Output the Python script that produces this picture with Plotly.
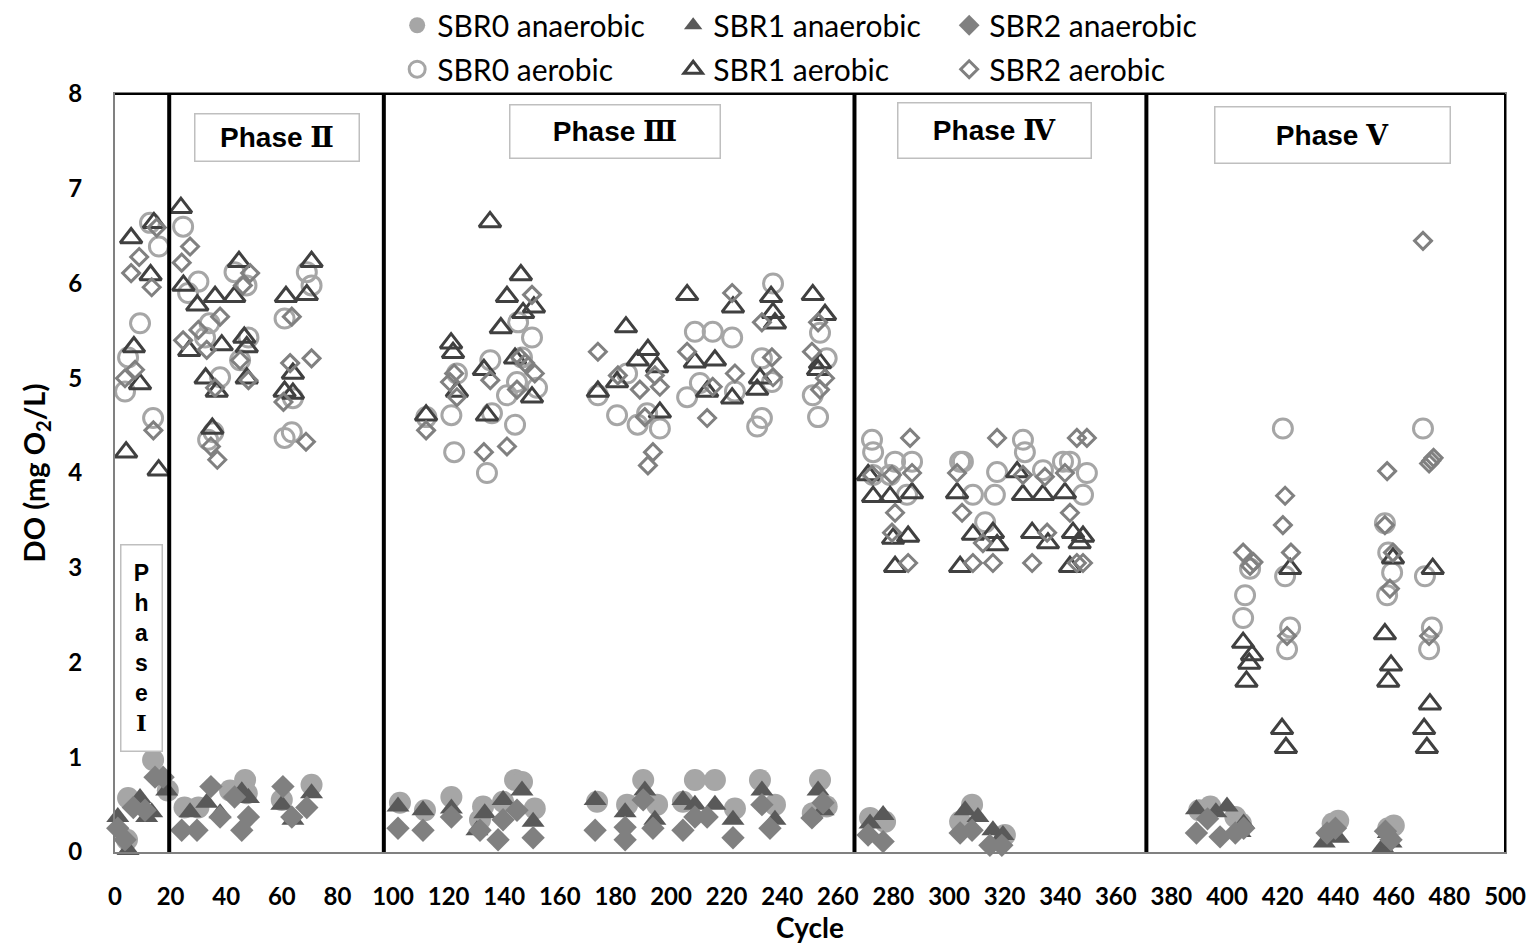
import plotly.graph_objects as go

# ---------------- data ----------------
sbr0_an_x = [4.7, 13.7, 19, 25, 30, 41.4, 46.8, 47.4, 60, 70.7, 4.3,
             102.5, 111.5, 121, 132.4, 139.6, 143.9, 146.4, 151, 131.3,
             173.4, 184.2, 190, 195, 208.6, 215.8, 223, 232, 237.4, 253.6, 256, 251, 204.3,
             271.6, 277, 308.3, 304, 320.1,
             390, 394, 403, 405, 438, 440, 458, 460]
sbr0_an_y = [0.57, 0.97, 0.65, 0.47, 0.47, 0.65, 0.76, 0.62, 0.55, 0.71, 0.13,
             0.52, 0.44, 0.58, 0.48, 0.53, 0.76, 0.74, 0.46, 0.34,
             0.53, 0.50, 0.76, 0.50, 0.76, 0.76, 0.46, 0.76, 0.50, 0.76, 0.48, 0.41, 0.53,
             0.36, 0.32, 0.50, 0.32, 0.18,
             0.44, 0.48, 0.37, 0.30, 0.30, 0.33, 0.25, 0.28]

sbr1_an_x = [1, 4.7, 9, 13.2, 18.6, 27, 33, 45.6, 48, 60, 64, 70.7, 37.8, 11.4,
             101.8, 110.8, 121, 133, 139.6, 146.4, 150.4, 130.2,
             172.7, 183.5, 190.6, 194.2, 204.3, 208.6, 215.8, 222.3, 232.7, 237.4, 252.9, 254.7,
             271.6, 276.3, 305.8, 310.4, 315.8, 319.4,
             389, 396, 400, 404.7, 406, 435, 440, 456, 458, 459]
sbr1_an_y = [0.37, 0.02, 0.57, 0.42, 0.65, 0.42, 0.52, 0.64, 0.57, 0.50, 0.34, 0.62, 0.41, 0.37,
             0.48, 0.44, 0.46, 0.41, 0.55, 0.65, 0.32, 0.23,
             0.55, 0.42, 0.65, 0.34, 0.55, 0.50, 0.50, 0.34, 0.65, 0.34, 0.65, 0.44,
             0.30, 0.39, 0.44, 0.37, 0.23, 0.18,
             0.45, 0.42, 0.48, 0.21, 0.30, 0.10, 0.15, 0.05, 0.20, 0.10]

sbr2_an_x = [1, 3.6, 6.6, 10.8, 14.4, 17.3, 24, 29.5, 34.5, 37.8, 45.6, 48, 60.4, 63.6, 69, 43,
             101.8, 110.8, 121, 131.3, 137.8, 144.6, 150.4, 139.6,
             172.7, 183.5, 183.5, 190, 193.5, 204.3, 208.6, 213, 222.3, 232.7, 235.6, 250.7, 254.7,
             270.9, 276.3, 304, 308.3, 314.7, 319,
             389, 393, 397.5, 403, 406, 436, 439, 457, 459]
sbr2_an_y = [0.25, 0.13, 0.47, 0.44, 0.79, 0.79, 0.23, 0.23, 0.69, 0.37, 0.23, 0.37, 0.69, 0.37, 0.47, 0.58,
             0.25, 0.23, 0.37, 0.23, 0.13, 0.44, 0.15, 0.34,
             0.23, 0.13, 0.26, 0.55, 0.25, 0.23, 0.37, 0.37, 0.15, 0.50, 0.25, 0.36, 0.52,
             0.18, 0.11, 0.20, 0.23, 0.07, 0.07,
             0.20, 0.35, 0.16, 0.20, 0.25, 0.20, 0.25, 0.22, 0.13]

sbr0_ae_x = [12.6, 15.8, 9, 4.7, 3.6, 13.7, 24.5, 30, 26.3, 34, 48, 37.8, 35.4, 43, 47.3, 32.4, 45,
             70.7, 69, 61, 64, 61, 63.6, 33.5,
             112, 121, 122, 123, 135, 133.8, 135.6, 141, 143.9, 145, 150, 151.8, 146.4, 144.6,
             173.7, 180.6, 188, 191.4, 196, 184.2, 205.8, 208.6, 215, 222, 236.7, 223, 232.7,
             236.3, 231, 232.7, 253.6, 256, 251, 252.9, 210.4,
             272.3, 272.7, 280.6, 286.7, 284.9, 304, 305, 317.3, 308.6, 316.5, 313, 326.6, 327.3,
             333.8, 341, 343.5, 349.6, 348.2, 272.7, 278.8,
             420.1, 408.3, 406.5, 405.8, 420.9, 422.7, 421.6, 456.8, 458, 459.4, 457.6,
             470.5, 471.2, 473.7, 472.7]
sbr0_ae_y = [6.64, 6.39, 5.58, 5.22, 4.86, 4.58, 6.60, 6.02, 5.90, 5.58, 5.43, 5.01, 4.43, 6.12, 5.98, 5.43, 5.19,
             5.98, 6.12, 5.63, 4.79, 4.37, 4.43, 4.35,
             4.59, 4.61, 4.22, 5.05, 5.19, 4.00, 4.63, 4.82, 4.51, 5.59, 5.43, 4.90, 5.22, 4.96,
             4.82, 4.61, 4.51, 4.63, 4.47, 5.05, 4.80, 5.49, 5.49, 5.43, 6.00, 4.86, 5.21,
             4.96, 4.49, 4.58, 5.48, 5.21, 4.82, 4.59, 4.95,
             4.35, 4.22, 4.12, 4.12, 3.77, 4.12, 4.12, 4.01, 3.77, 3.77, 3.48, 4.35, 4.22,
             4.03, 4.12, 4.12, 4.00, 3.77, 3.98, 3.98,
             4.47, 2.99, 2.71, 2.47, 2.91, 2.37, 2.14, 3.47, 3.16, 2.95, 2.71,
             4.47, 2.91, 2.37, 2.14]

sbr1_ae_x = [5.8, 14, 12.8, 6.8, 9, 4, 15.7, 23.7, 24.6, 29.6, 36, 42.9, 44.6, 26.7, 38.4, 46.5, 47.4,
             32.6, 36.6, 47.4, 35, 61.5, 69, 70.7, 64, 61, 64,
             134.9, 146, 141, 150.7, 146.8, 138.8, 120.9, 121.6, 143.9, 132.7, 123, 150, 111.9, 133.8,
             183.8, 191.7, 188, 195, 180.6, 173.7, 196, 205.8, 208.6, 215.8, 213, 222, 222.3,
             236, 236.7, 237.4, 231, 232, 251, 255.4, 253.6, 252.9,
             272.7, 278.8, 286.7, 270.9, 279.9, 285.3, 280.6, 302.9, 308.6, 315.8, 317.3, 304,
             326.6, 333.8, 341.7, 329.9, 335.6, 344.6, 348.2, 347, 343.5, 324.5,
             405.8, 409, 408, 407, 422.7, 419.8, 421.2, 459.7, 456.8, 459, 458, 474, 473, 470.9, 471.9]
sbr1_ae_y = [6.48, 6.64, 6.09, 5.33, 4.94, 4.22, 4.03, 6.80, 5.98, 5.77, 5.86, 5.86, 6.23, 5.29, 5.35, 5.43, 5.33,
             5.00, 4.86, 5.00, 4.47, 5.86, 5.88, 6.23, 5.05, 4.86, 4.84,
             6.65, 6.09, 5.86, 5.75, 5.69, 5.53, 5.37, 5.27, 5.21, 5.09, 4.86, 4.80, 4.61, 4.61,
             5.54, 5.30, 5.19, 5.12, 4.96, 4.86, 4.64, 5.88, 5.17, 5.19, 4.86, 4.79, 5.75,
             5.86, 5.69, 5.58, 4.88, 5.00, 5.88, 5.67, 5.16, 5.09,
             3.75, 3.75, 3.79, 3.98, 3.31, 3.33, 3.01, 3.79, 3.35, 3.37, 3.24, 3.01,
             3.77, 3.77, 3.79, 3.37, 3.26, 3.37, 3.33, 3.26, 3.01, 4.01,
             2.21, 2.08, 1.99, 1.80, 2.99, 1.30, 1.10, 3.10, 2.30, 1.97, 1.80, 2.99, 1.56, 1.30, 1.10]

sbr2_ae_x = [5.8, 8.7, 13.2, 15, 3.6, 7.2, 13.8, 24, 27, 24.5, 30, 33, 37.8, 46, 48.6, 45, 48, 36,
             34.5, 36.8, 63.6, 63, 70.7, 60.6, 68.7,
             111.9, 120.5, 122, 123, 132.7, 141, 135, 145.7, 147.5, 151, 150, 144.6,
             173.7, 180.9, 188.8, 194.2, 196, 190.6, 193.5, 191.7, 205.8, 223, 213, 222, 232.7,
             236.3, 236.7, 250.7, 252.9, 255.4, 253.6, 215,
             286, 317.3, 346, 349.6, 272.3, 279.5, 286.7, 302.9, 326.6, 334.5, 341.7, 280.6, 279.5,
             285.3, 304.7, 312.2, 308.6, 315.8, 329.9, 335.3, 343.5, 346, 348.2,
             405.8, 408.3, 409.5, 420.9, 420.1, 423, 421.6, 457.6, 456.8, 459.7, 458.6,
             470.5, 472.7, 473.5, 474.3, 472.7]
sbr2_ae_y = [6.11, 6.28, 5.96, 6.59, 5.00, 5.09, 4.45, 6.22, 6.39, 5.40, 5.51, 5.30, 5.65, 5.98, 6.11, 5.19, 4.98, 4.90,
             4.28, 4.14, 5.65, 5.16, 5.21, 4.75, 4.33,
             4.45, 4.96, 5.05, 4.80, 4.22, 4.28, 4.98, 5.22, 5.16, 5.05, 5.88, 4.88,
             5.28, 5.03, 4.88, 5.03, 4.91, 4.59, 4.22, 4.08, 5.28, 5.05, 4.58, 5.90, 5.59,
             5.22, 5.01, 5.28, 5.59, 5.00, 4.88, 4.91,
             4.37, 4.37, 4.37, 4.37, 3.98, 3.98, 4.00, 4.00, 3.98, 3.96, 4.00, 3.58, 3.37,
             3.05, 3.58, 3.26, 3.05, 3.05, 3.05, 3.37, 3.58, 3.05, 3.05,
             3.16, 3.02, 3.06, 3.76, 3.45, 3.16, 2.28, 4.02, 3.45, 3.16, 2.78,
             6.45, 4.10, 4.13, 4.16, 2.28]

phase_bounds = [19.5, 96.7, 266, 371]
phase_numerals = ["Ⅱ", "Ⅲ", "Ⅳ", "Ⅴ"]
phase_label_x = [58.3, 179.9, 316.5, 437.8]
phase_label_w = [165, 211, 194, 236]
phase_label_h = [48, 54, 56, 57]
phase_label_y = [7.54, 7.6, 7.62, 7.57]

# ---------------- figure ----------------
C0, C1, C2 = "#A6A6A6", "#404040", "#808080"
C1F = "#595959"
FONT = "Lato, Carlito, sans-serif"
SERIF = "DejaVu Serif"

fig = go.Figure()

def add(x, y, name, symbol, color, size, lw, legend):
    if symbol.endswith("-open"):
        marker = dict(symbol=symbol, color=color, size=size, line=dict(width=lw, color=color))
    else:
        marker = dict(symbol=symbol, color=color, size=size, line=dict(width=0))
    fig.add_trace(go.Scatter(x=x, y=y, mode="markers", name=name, marker=marker,
                             legend=legend, cliponaxis=False))

add(sbr0_an_x, sbr0_an_y, "SBR0 anaerobic", "circle", C0, 22, 0, "legend")
add(sbr1_an_x, sbr1_an_y, "SBR1 anaerobic", "triangle-up", C1F, 20, 0, "legend")
add(sbr2_an_x, sbr2_an_y, "SBR2 anaerobic", "diamond", C2, 18, 0, "legend")
add(sbr0_ae_x, sbr0_ae_y, "SBR0 aerobic", "circle-open", C0, 19, 3, "legend2")
add(sbr1_ae_x, sbr1_ae_y, "SBR1 aerobic", "triangle-up-open", C1, 19, 3, "legend2")
add(sbr2_ae_x, sbr2_ae_y, "SBR2 aerobic", "diamond-open", C2, 13, 3, "legend2")

shapes = []
for b in phase_bounds:
    shapes.append(dict(type="line", xref="x", yref="y", x0=b, x1=b, y0=0, y1=8,
                       line=dict(color="black", width=4), layer="above"))
shapes.append(dict(type="line", xref="paper", yref="paper", x0=0, x1=1, y0=1, y1=1,
                   line=dict(color="black", width=2)))
shapes.append(dict(type="line", xref="paper", yref="paper", x0=1, x1=1, y0=0, y1=1,
                   line=dict(color="black", width=2)))

annotations = []
for num, xx, yy, w, h in zip(phase_numerals, phase_label_x, phase_label_y, phase_label_w, phase_label_h):
    txt = "<b>Phase <span style=\"font-family:'" + SERIF + "'\">" + num + "</span></b>"
    annotations.append(dict(x=xx, y=yy, xref="x", yref="y", text=txt,
                            showarrow=False, width=w - 4, height=h - 4,
                            font=dict(family="Liberation Sans, Arial", size=28, color="black"),
                            bgcolor="white", bordercolor="#BFBFBF", borderwidth=1.5, borderpad=1))
annotations.append(dict(x=9.4, y=2.15, xref="x", yref="y",
                        text="<b>P<br>h<br>a<br>s<br>e<br><span style=\"font-family:'" + SERIF + "'\">Ⅰ</span></b>",
                        showarrow=False, width=38, height=203,
                        font=dict(family="Liberation Sans, Arial", size=23, color="black"),
                        bgcolor="white", bordercolor="#BFBFBF", borderwidth=1.5, borderpad=1))

legend_common = dict(orientation="h", xanchor="left", yanchor="top",
                     font=dict(family=FONT, size=30, color="black"),
                     entrywidth=231, entrywidthmode="pixels", bgcolor="rgba(0,0,0,0)",
                     itemsizing="trace", tracegroupgap=0)

fig.update_layout(
    width=1534, height=947,
    margin=dict(l=115, r=29, t=94, b=95, autoexpand=False),
    plot_bgcolor="white", paper_bgcolor="white",
    font=dict(family=FONT, color="black"),
    showlegend=True,
    legend=dict(x=0.203, y=1.125, **legend_common),
    legend2=dict(x=0.203, y=1.067, **legend_common),
    xaxis=dict(range=[0, 500], dtick=20, tick0=0, showgrid=False, zeroline=False,
               showline=True, linecolor="#808080", linewidth=2, mirror=True, ticks="",
               tickfont=dict(family=FONT, size=24, color="black", weight="bold"),
               ticklabelstandoff=22,
               title=dict(text="<b>Cycle</b>", font=dict(family=FONT, size=28),
                          standoff=8)),
    yaxis=dict(range=[0, 8], dtick=1, tick0=0, showgrid=False, zeroline=False,
               showline=True, linecolor="#808080", linewidth=2, mirror=True, ticks="",
               tickfont=dict(family=FONT, size=24, color="black", weight="bold"),
               ticklabelstandoff=26,
               title=dict(text="<b>DO (mg O<sub>2</sub>/L)</b>",
                          font=dict(family=FONT, size=29), standoff=14)),
    shapes=shapes,
    annotations=annotations,
)

fig.write_html("out.html")
